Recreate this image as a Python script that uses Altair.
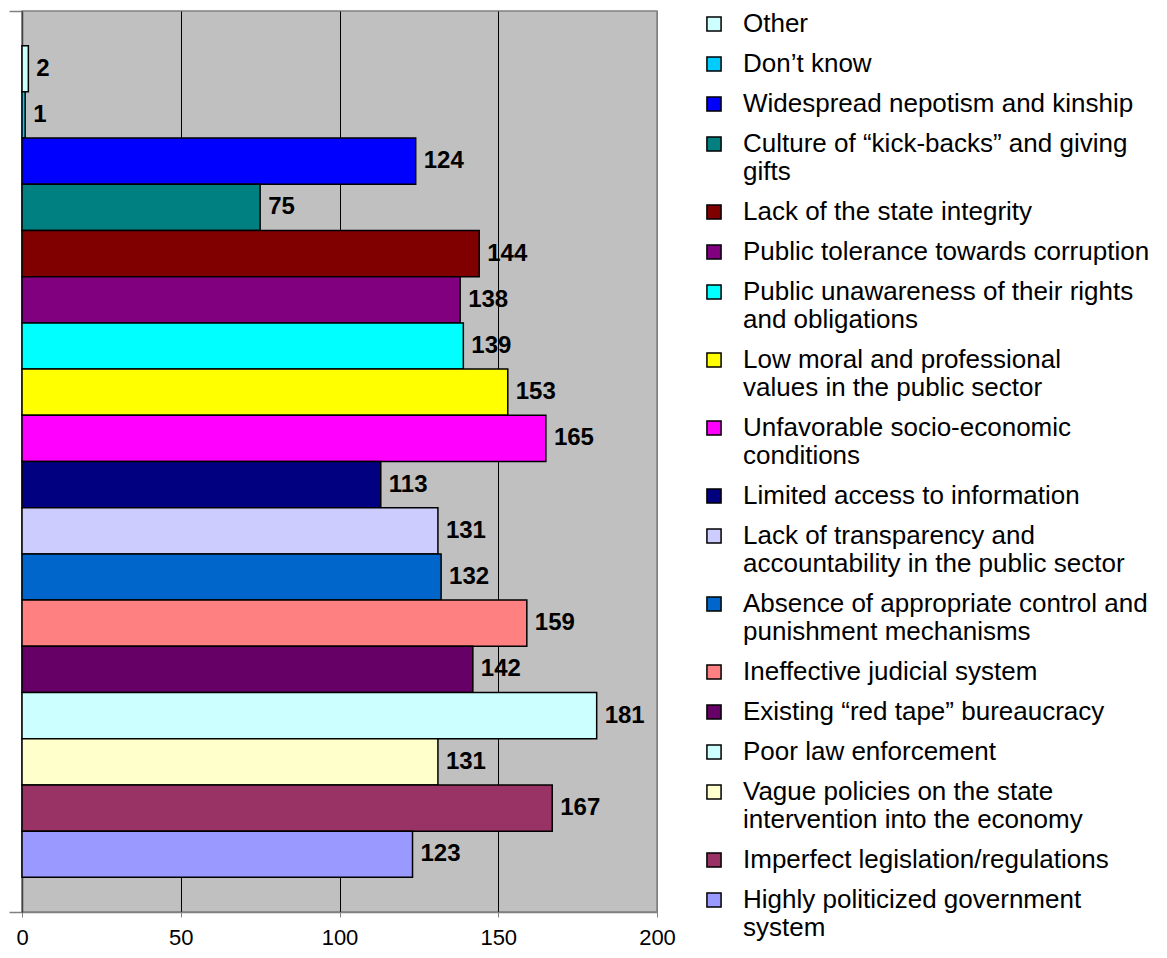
import altair as alt
import pandas as pd

NB = "\u00a0"
categories = [
    "Other",
    NB + "Don’t know",
    NB + "Widespread nepotism and kinship",
    "Culture of “kick-backs” and giving|gifts",
    "Lack of the state integrity",
    "Public tolerance towards corruption",
    NB + "Public unawareness of their rights|and obligations",
    NB + "Low moral and professional|values in the public sector",
    "Unfavorable socio-economic|conditions",
    NB + "Limited access to information",
    NB + "Lack of transparency and|accountability in the public sector",
    NB + "Absence of appropriate control and|punishment mechanisms",
    "Ineffective judicial system",
    "Existing “red tape” bureaucracy",
    NB + "Poor law enforcement",
    NB + "Vague policies on the state|intervention into the economy",
    "Imperfect legislation/regulations",
    NB + "Highly politicized government|system",
]
values = [2, 1, 124, 75, 144, 138, 139, 153, 165, 113, 131, 132, 159, 142, 181, 131, 167, 123]
colors = ["#CCFFFF", "#00CCFF", "#0000FF", "#008080", "#800000", "#800080",
          "#00FFFF", "#FFFF00", "#FF00FF", "#000080", "#CCCCFF", "#0066CC",
          "#FF8080", "#660066", "#CCFFFF", "#FFFFCC", "#993366", "#9999FF"]
x_ticks = [0, 50, 100, 150, 200]

df = pd.DataFrame({"category": categories, "value": values})

first_cat = categories[0]

x_enc = alt.X(
    "value:Q",
    scale=alt.Scale(domain=[0, 200], nice=False),
    axis=alt.Axis(
        title=None, values=x_ticks, grid=True,
        gridColor={"condition": {"test": "datum.value == 200", "value": "#808080"}, "value": "black"},
        gridWidth=1, gridOpacity=1,
        tickSize=5, tickColor="#808080", domainColor="#808080", domainWidth=1.5,
        labelFont="Liberation Sans Narrow, Arial Narrow, Liberation Sans",
        labelFontSize=22, labelPadding=10, labelColor="black", labelFlush=False,
    ),
)
y_enc = alt.Y(
    "category:N", sort=categories,
    scale=alt.Scale(paddingInner=0, paddingOuter=0.75),
    axis=alt.Axis(
        title=None, labels=False, grid=False,
        domainColor="#404040", domainWidth=1.5,
        tickColor="#808080", tickSize=13, tickWidth=1.5,
        values=[categories[0], categories[-1]],
        tickOffset=alt.ExprRef(
            "datum.value == '" + first_cat + "' ? -1.25*bandwidth('y') : 1.25*bandwidth('y')"
        ),
    ),
)

bars = alt.Chart(df).mark_bar(stroke="black", strokeWidth=1.5).encode(
    x=x_enc,
    y=y_enc,
    color=alt.Color(
        "category:N",
        scale=alt.Scale(domain=categories, range=colors),
        legend=alt.Legend(
            title=None, orient="none", legendX=679, legendY=0,
            symbolType="square", symbolSize=200,
            symbolStrokeColor="black", symbolStrokeWidth=1.5,
            labelFont="Liberation Sans", labelFontSize=26, labelColor="black",
            labelLimit=800, labelOffset=16, rowPadding=14,
            labelBaseline="middle",
            labelExpr="split(datum.label, '|')",
        ),
    ),
)

labels = alt.Chart(df).mark_text(
    align="left", baseline="middle", dx=8,
    font="Liberation Sans", fontSize=24, fontWeight="bold", color="black",
).encode(
    x=alt.X("value:Q"),
    y=alt.Y("category:N", sort=categories),
    text="value:Q",
)

chart = alt.layer(bars, labels).properties(
    width=635, height=901,
    autosize=alt.AutoSizeParams(type="none"),
    padding={"left": 14, "top": 3, "right": 502, "bottom": 38},
).configure(
    background="white",
).configure_view(
    fill="#C0C0C0", stroke="#808080", strokeWidth=1.5,
)

chart.save("out.html", embed_options={"renderer": "svg", "actions": False})
